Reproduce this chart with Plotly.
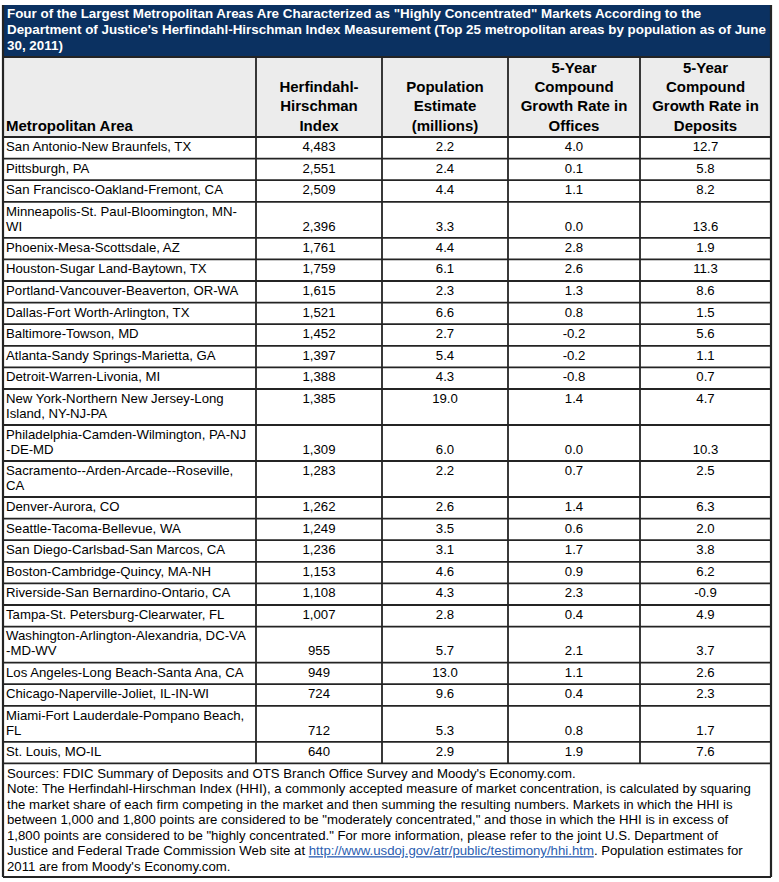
import plotly.graph_objects as go

#===========================================================================================================#

title = ["Four of the Largest Metropolitan Areas Are Characterized as \"Highly Concentrated\" Markets According to the",
         "Department of Justice's Herfindahl-Hirschman Index Measurement (Top 25 metropolitan areas by population as of June",
         "30, 2011)"]

headers = [["Metropolitan Area"],
           ["Herfindahl-", "Hirschman", "Index"],
           ["Population", "Estimate", "(millions)"],
           ["5-Year", "Compound", "Growth Rate in", "Offices"],
           ["5-Year", "Compound", "Growth Rate in", "Deposits"]]

areas = ["San Antonio-New Braunfels, TX", "Pittsburgh, PA", "San Francisco-Oakland-Fremont, CA",
         "Minneapolis-St. Paul-Bloomington, MN-WI", "Phoenix-Mesa-Scottsdale, AZ", "Houston-Sugar Land-Baytown, TX",
         "Portland-Vancouver-Beaverton, OR-WA", "Dallas-Fort Worth-Arlington, TX", "Baltimore-Towson, MD",
         "Atlanta-Sandy Springs-Marietta, GA", "Detroit-Warren-Livonia, MI",
         "New York-Northern New Jersey-Long Island, NY-NJ-PA", "Philadelphia-Camden-Wilmington, PA-NJ-DE-MD",
         "Sacramento--Arden-Arcade--Roseville, CA", "Denver-Aurora, CO", "Seattle-Tacoma-Bellevue, WA",
         "San Diego-Carlsbad-San Marcos, CA", "Boston-Cambridge-Quincy, MA-NH", "Riverside-San Bernardino-Ontario, CA",
         "Tampa-St. Petersburg-Clearwater, FL", "Washington-Arlington-Alexandria, DC-VA-MD-WV",
         "Los Angeles-Long Beach-Santa Ana, CA", "Chicago-Naperville-Joliet, IL-IN-WI",
         "Miami-Fort Lauderdale-Pompano Beach, FL", "St. Louis, MO-IL"]

hhi = [4483, 2551, 2509, 2396, 1761, 1759, 1615, 1521, 1452, 1397, 1388, 1385, 1309,
       1283, 1262, 1249, 1236, 1153, 1108, 1007, 955, 949, 724, 712, 640]
population = [2.2, 2.4, 4.4, 3.3, 4.4, 6.1, 2.3, 6.6, 2.7, 5.4, 4.3, 19.0, 6.0,
              2.2, 2.6, 3.5, 3.1, 4.6, 4.3, 2.8, 5.7, 13.0, 9.6, 5.3, 2.9]
officesGrowth = [4.0, 0.1, 1.1, 0.0, 2.8, 2.6, 1.3, 0.8, -0.2, -0.2, -0.8, 1.4, 0.0,
                 0.7, 1.4, 0.6, 1.7, 0.9, 2.3, 0.4, 2.1, 1.1, 0.4, 0.8, 1.9]
depositsGrowth = [12.7, 5.8, 8.2, 13.6, 1.9, 11.3, 8.6, 1.5, 5.6, 1.1, 0.7, 4.7, 10.3,
                  2.5, 6.3, 2.0, 3.8, 6.2, -0.9, 4.9, 3.7, 2.6, 2.3, 1.7, 7.6]

# long names wrap onto two lines; the second item says which line the numbers sit on
wrapped = {
    "Minneapolis-St. Paul-Bloomington, MN-WI": (["Minneapolis-St. Paul-Bloomington, MN-", "WI"], 1),
    "New York-Northern New Jersey-Long Island, NY-NJ-PA": (["New York-Northern New Jersey-Long", "Island, NY-NJ-PA"], 0),
    "Philadelphia-Camden-Wilmington, PA-NJ-DE-MD": (["Philadelphia-Camden-Wilmington, PA-NJ", "-DE-MD"], 1),
    "Sacramento--Arden-Arcade--Roseville, CA": (["Sacramento--Arden-Arcade--Roseville,", "CA"], 0),
    "Washington-Arlington-Alexandria, DC-VA-MD-WV": (["Washington-Arlington-Alexandria, DC-VA", "-MD-WV"], 1),
    "Miami-Fort Lauderdale-Pompano Beach, FL": (["Miami-Fort Lauderdale-Pompano Beach,", "FL"], 1),
}

link = "<span style='color:#2a5db0;text-decoration:underline'>http://www.usdoj.gov/atr/public/testimony/hhi.htm</span>"
notes = ["Sources: FDIC Summary of Deposits and OTS Branch Office Survey and Moody's Economy.com.",
         "Note: The Herfindahl-Hirschman Index (HHI), a commonly accepted measure of market concentration, is calculated by squaring",
         "the market share of each firm competing in the market and then summing the resulting numbers. Markets in which the HHI is",
         "between 1,000 and 1,800 points are considered to be \"moderately concentrated,\" and those in which the HHI is in excess of",
         "1,800 points are considered to be \"highly concentrated.\" For more information, please refer to the joint U.S. Department of",
         "Justice and Federal Trade Commission Web site at " + link + ". Population estimates for",
         "2011 are from Moody's Economy.com."]

#===========================================================================================================#

FONT = "Arial, 'Liberation Sans', sans-serif"
NAVY = "#0b3161"
HEADGRAY = "#ececec"
LINE = "#242424"

colEdges = [3, 256, 382, 508, 640, 771]
titleTop, headTop, bodyTop, bottom = 5, 57, 137, 877
singleRow, doubleRow, lineGap = 21.6, 36, 15
headGap, noteGap = 19.3, 15.5

def textTrace(xs, ys, texts, pos, color="#000", bold=False, size=13.2) -> go.Scatter:
    return go.Scatter(x=xs, y=ys, text=texts, mode="text", textposition=pos, hoverinfo="skip",
                      textfont=dict(family=FONT, size=size, color=color, weight="bold" if bold else "normal"))

def hline(y, x0, x1, width=1.8) -> dict:
    return dict(type="line", xref="x", yref="y", x0=x0, x1=x1, y0=y, y1=y, line=dict(color=LINE, width=width))

def vline(x, y0, y1, width=1.8) -> dict:
    return dict(type="line", xref="x", yref="y", x0=x, x1=x, y0=y0, y1=y1, line=dict(color=LINE, width=width))

#===========================================================================================================#

left, right = colEdges[0], colEdges[-1]
centers = [(colEdges[i] + colEdges[i + 1]) / 2 for i in range(1, 5)]

# row layout
rowTops, rowHeights = [], []
y = bodyTop
for name in areas:
    h = doubleRow if name in wrapped else singleRow
    rowTops.append(y)
    rowHeights.append(h)
    y += h
tableBottom = y

nameX, nameY, nameT = [], [], []
numX, numY, numT = [], [], []
for i, name in enumerate(areas):
    top = rowTops[i]
    if name in wrapped:
        lines, numLine = wrapped[name]
        lineYs = [top + 10.5, top + 10.5 + lineGap]
        numYpos = lineYs[numLine]
    else:
        lines = [name]
        lineYs = [top + rowHeights[i] / 2]
        numYpos = lineYs[0]
    for ln, ly in zip(lines, lineYs):
        nameX.append(left + 3)
        nameY.append(ly)
        nameT.append(ln)
    values = [f"{hhi[i]:,}", f"{population[i]:.1f}", f"{officesGrowth[i]:.1f}", f"{depositsGrowth[i]:.1f}"]
    for cx, v in zip(centers, values):
        numX.append(cx)
        numY.append(numYpos)
        numT.append(v)

# header lines, bottom aligned
headX, headY, headT = [], [], []
headL = []
for c, lines in enumerate(headers):
    n = len(lines)
    for k, ln in enumerate(lines):
        yy = bodyTop - 10 - (n - 1 - k) * headGap
        if c == 0:
            headL.append((left + 3, yy, ln))
        else:
            headX.append(centers[c - 1])
            headY.append(yy)
            headT.append(ln)

fig = go.Figure()
fig.add_trace(textTrace(nameX, nameY, nameT, "middle right"))
fig.add_trace(textTrace(numX, numY, numT, "middle center"))
fig.add_trace(textTrace(headX, headY, headT, "middle center", bold=True, size=15))
fig.add_trace(textTrace([h[0] for h in headL], [h[1] for h in headL], [h[2] for h in headL], "middle right",
                        bold=True, size=15))
fig.add_trace(textTrace([left + 4] * len(title), [titleTop + 10 + k * 15.8 for k in range(len(title))], title,
                        "middle right", color="white", bold=True, size=13.4))
fig.add_trace(textTrace([left + 4] * len(notes), [tableBottom + 11 + k * noteGap for k in range(len(notes))], notes,
                        "middle right"))

shapes = [
    dict(type="rect", xref="x", yref="y", x0=left, x1=right, y0=titleTop, y1=headTop, fillcolor=NAVY, line=dict(width=0), layer="below"),
    dict(type="rect", xref="x", yref="y", x0=left, x1=right, y0=headTop, y1=bodyTop, fillcolor=HEADGRAY, line=dict(width=0), layer="below"),
    hline(headTop, left, right), hline(bodyTop, left, right), hline(bottom, left, right, 2.2),
    vline(left, titleTop, bottom, 2.2), vline(right, titleTop, bottom, 2.2),
]
for top in rowTops[1:] + [tableBottom]:
    shapes.append(hline(top, left, right))
for x in colEdges[1:-1]:
    shapes.append(vline(x, headTop, tableBottom))

fig.update_layout(
    width=779, height=882, margin=dict(l=0, r=0, t=0, b=0),
    paper_bgcolor="white", plot_bgcolor="white", showlegend=False, shapes=shapes,
    xaxis=dict(range=[0, 779], visible=False, fixedrange=True),
    yaxis=dict(range=[882, 0], visible=False, fixedrange=True),
)

fig.write_html("out.html", config={"displayModeBar": False},
               post_script="document.body.style.margin = '0px';")
